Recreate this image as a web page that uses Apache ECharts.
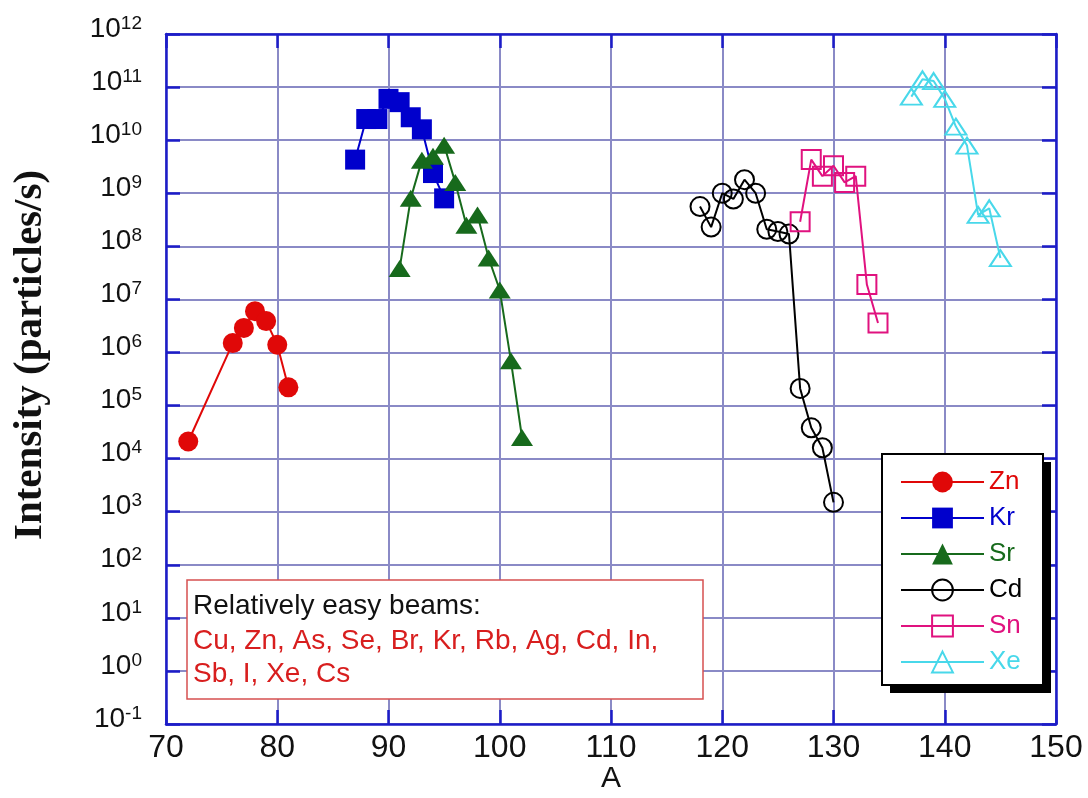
<!DOCTYPE html>
<html><head><meta charset="utf-8">
<script src="https://cdn.jsdelivr.net/npm/echarts@6/dist/echarts.min.js"></script>
<style>html,body{margin:0;padding:0;background:#fff}#c{width:1088px;height:798px}</style>
</head><body><div id="c"></div>
<script>
// ---- data (mass number A, intensity in particles/s) ----
const znA = [72, 76, 77, 78, 79, 80, 81];
const znI = [2.1e4, 1.5e6, 2.9e6, 6.0e6, 3.9e6, 1.4e6, 2.2e5];
const krA = [87, 88, 89, 90, 91, 92, 93, 94, 95];
const krI = [4.3e9, 2.5e10, 2.5e10, 6.0e10, 5.2e10, 2.7e10, 1.6e10, 2.4e9, 8.0e8];
const srA = [91, 92, 93, 94, 95, 96, 97, 98, 99, 100, 101, 102];
const srI = [3.8e7, 8.0e8, 4.2e9, 5.0e9, 8.0e9, 1.6e9, 2.5e8, 3.9e8, 6.0e7, 1.5e7, 7.0e5, 2.5e4];
const cdA = [118, 119, 120, 121, 122, 123, 124, 125, 126, 127, 128, 129, 130];
const cdI = [5.6e8, 2.3e8, 1.0e9, 7.8e8, 1.8e9, 1.0e9, 2.1e8, 1.9e8, 1.7e8, 2.1e5, 3.8e4, 1.6e4, 1.5e3];
const snA = [127, 128, 129, 130, 131, 132, 133, 134];
const snI = [2.9e8, 4.3e9, 2.1e9, 3.3e9, 1.6e9, 2.1e9, 1.9e7, 3.6e6];
const xeA = [137, 138, 139, 140, 141, 142, 143, 144, 145];
const xeI = [6.6e10, 1.4e11, 1.3e11, 6.0e10, 1.8e10, 7.9e9, 3.9e8, 5.2e8, 6.0e7];

const seriesNames = ['Zn', 'Kr', 'Sr', 'Cd', 'Sn', 'Xe'];
const xTickValues = [70, 80, 90, 100, 110, 120, 130, 140, 150];
const yTickExponents = [-1, 0, 1, 2, 3, 4, 5, 6, 7, 8, 9, 10, 11, 12];
const xTitle = 'A';
const yTitle = 'Intensity (particles/s)';
const noteTitle = 'Relatively easy beams:';
const noteLines = ['Cu, Zn, As, Se, Br, Kr, Rb, Ag, Cd, In,', 'Sb, I, Xe, Cs'];

// ---- styling ----
const colors = ['#e00808', '#0000cc', '#176a1c', '#000000', '#e0127f', '#48d8ea'];
const AXIS_BLUE = '#1c1cc8';
const GRID_C = '#8a8ac6';
const FONT = '"Liberation Sans", Arial, Helvetica, sans-serif';

function mk(i, xs, ys, symbol, size, hollow) {
  const c = colors[i];
  return {
    name: seriesNames[i], type: 'line',
    data: xs.map((x, k) => [x, ys[k]]),
    symbol: symbol, symbolSize: size, showSymbol: true,
    lineStyle: { color: c, width: 2 },
    itemStyle: hollow ? { color: 'rgba(255,255,255,0)', borderColor: c, borderWidth: 2 }
                      : { color: c, borderWidth: 0 },
    emphasis: { disabled: true },
    xAxisIndex: 0, yAxisIndex: 0, z: 6
  };
}

const xMin = xTickValues[0], xMax = xTickValues[xTickValues.length - 1];
const yMin = Math.pow(10, yTickExponents[0]), yMax = Math.pow(10, yTickExponents[yTickExponents.length - 1]);
const yTickVals = yTickExponents.map(e => Math.pow(10, e));

const axisLineStyle = { show: true, onZero: false, lineStyle: { color: AXIS_BLUE, width: 2.5 } };
const axisTickStyle = { show: true, inside: true, length: 14, lineStyle: { color: AXIS_BLUE, width: 2.5 } };

const chart = echarts.init(document.getElementById('c'), null, { renderer: 'canvas' });
chart.setOption({
  animation: false,
  backgroundColor: '#ffffff',
  grid: { left: 166, top: 34, width: 890, height: 690, containLabel: false, outerBoundsMode: 'none' },
  xAxis: [{
    type: 'value', min: xMin, max: xMax, interval: 10, position: 'bottom',
    axisLine: axisLineStyle, axisTick: axisTickStyle,
    axisLabel: { fontSize: 32, color: '#111', margin: 8, fontFamily: FONT },
    splitLine: { show: true, lineStyle: { color: GRID_C, width: 2 } }
  }, {
    type: 'value', min: xMin, max: xMax, interval: 10, position: 'top',
    axisLine: axisLineStyle, axisTick: axisTickStyle,
    axisLabel: { show: false }, splitLine: { show: false }
  }],
  yAxis: [{
    type: 'log', logBase: 10, min: yMin, max: yMax, interval: 1, position: 'left',
    axisLine: axisLineStyle,
    axisTick: Object.assign({}, axisTickStyle, { customValues: yTickVals }),
    minorTick: { show: false },
    axisLabel: {
      customValues: yTickVals,
      margin: 24, padding: [0, 0, 10, 0],
      formatter: function (v) {
        const e = Math.round(Math.log10(v));
        return '{b|10}{s|' + e + '}';
      },
      rich: {
        b: { fontSize: 28, fontFamily: FONT, color: '#111', lineHeight: 30 },
        s: { fontSize: 19, fontFamily: FONT, color: '#111', verticalAlign: 'top', lineHeight: 18 }
      }
    },
    splitLine: { show: true, lineStyle: { color: GRID_C, width: 2 } }
  }, {
    type: 'log', logBase: 10, min: yMin, max: yMax, interval: 1, position: 'right',
    axisLine: axisLineStyle,
    axisTick: Object.assign({}, axisTickStyle, { customValues: yTickVals }),
    minorTick: { show: false },
    axisLabel: { show: false }, splitLine: { show: false }
  }],
  legend: {
    orient: 'vertical', left: 900, top: 469, padding: 0,
    itemWidth: 83, itemHeight: 26, itemGap: 10,
    selectedMode: false, z: 10,
    textStyle: { fontSize: 26, fontFamily: FONT },
    data: seriesNames.map((n, i) => ({ name: n, textStyle: { color: colors[i] } }))
  },
  graphic: [
    { type: 'rect', z: 3, shape: { x: 890, y: 462, width: 161, height: 231 }, style: { fill: '#000' } },
    { type: 'rect', z: 3, shape: { x: 882, y: 454, width: 161, height: 231 }, style: { fill: '#fff', stroke: '#000', lineWidth: 2 } },
    { type: 'rect', z: 5, shape: { x: 187, y: 580, width: 516, height: 119 }, style: { fill: '#fff', stroke: '#d65050', lineWidth: 1.5 } },
    { type: 'text', z: 6, x: 193, y: 606, style: { text: noteTitle, fill: '#111', font: '28px ' + FONT, verticalAlign: 'middle' } },
    { type: 'text', z: 6, x: 193, y: 641, style: { text: noteLines[0], fill: '#d81e1e', font: '28px ' + FONT, verticalAlign: 'middle' } },
    { type: 'text', z: 6, x: 193, y: 674, style: { text: noteLines[1], fill: '#d81e1e', font: '28px ' + FONT, verticalAlign: 'middle' } },
    { type: 'text', z: 6, x: 611, y: 779, style: { text: xTitle, fill: '#111', font: '30px ' + FONT, align: 'center', verticalAlign: 'middle' } },
    { type: 'text', z: 6, x: 30, y: 355, rotation: Math.PI / 2, style: { text: yTitle, fill: '#111', font: 'bold 41px "Liberation Serif", "Times New Roman", serif', align: 'center', verticalAlign: 'middle' } }
  ],
  series: [
    mk(0, znA, znI, 'circle', 20, false),
    mk(1, krA, krI, 'rect', 20, false),
    mk(2, srA, srI, 'triangle', [22, 17], false),
    mk(3, cdA, cdI, 'circle', 19, true),
    mk(4, snA, snI, 'rect', 19, true),
    mk(5, xeA, xeI, 'triangle', [21, 16], true)
  ]
});
</script>
</body></html>
